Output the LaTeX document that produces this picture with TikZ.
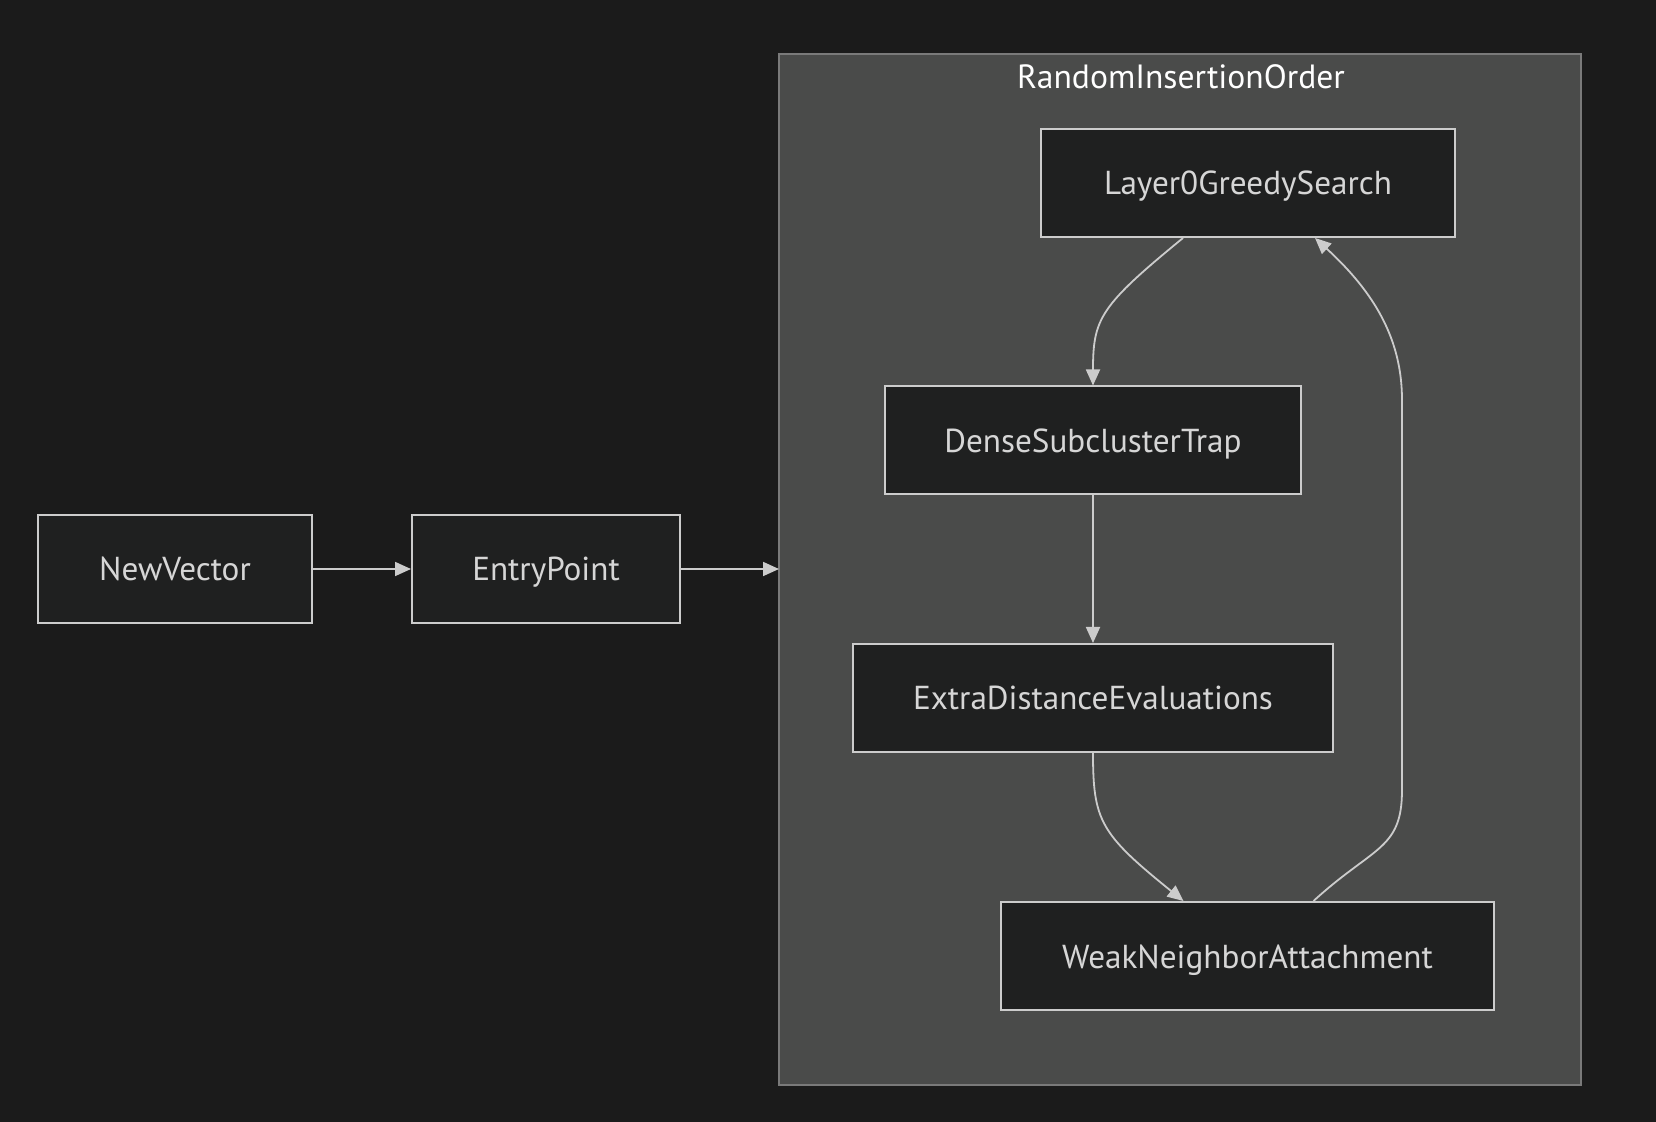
\documentclass[tikz,border=0pt]{standalone}
\usepackage{fontspec}
\setmainfont{PT Sans}
\usepackage{tikz}
\usetikzlibrary{shapes, arrows.meta, fit}
\usetikzlibrary{positioning}
\usepackage{color}
\definecolor{bgcol}{HTML}{1B1B1B}
\definecolor{clustfill}{HTML}{4A4B4A}
\definecolor{clustline}{HTML}{7A7A7A}
\definecolor{boxfill}{HTML}{1F2020}
\definecolor{boxline}{HTML}{CCCCCC}
\definecolor{txtcol}{HTML}{D6D6D6}

\tikzset{
  stepbox/.style={draw=boxline, line width=1pt, fill=boxfill, text=txtcol,
    minimum height=54pt, inner sep=0pt, text height=12pt, text depth=0pt,
    font=\fontsize{16.6}{19}\selectfont},
  link/.style={draw=boxline, line width=0.9pt,
    -{Triangle[length=8pt, width=7pt]}}
}

\begin{document}
\begin{tikzpicture}[x=0.5pt,y=-0.5pt]
\useasboundingbox[fill=bgcol] (0,0) rectangle (1656,1122);
\filldraw[fill=clustfill, draw=clustline, line width=0.8pt]
  (779,54) rectangle (1581,1085);
\path
  coordinate (clin) at (779,569)
  coordinate (loopbot) at (1402,790)
  coordinate (looptop) at (1402,400)
  ;
\node[text=white, text height=12pt, text depth=0pt,
  font=\fontsize{16.8}{19}\selectfont] (title) at (1181,77) {RandomInsertionOrder};
\node[stepbox, minimum width=137pt] (newvec) at (175,569) {NewVector};
\node[stepbox, minimum width=134pt] (entry) at (546,569) {EntryPoint};
\node[stepbox, minimum width=207pt] (layer0) at (1248,183) {Layer0GreedySearch};
\node[stepbox, minimum width=208pt] (dense) at (1093,440.5) {DenseSubclusterTrap};
\node[stepbox, minimum width=240pt] (extra) at (1093,698) {ExtraDistanceEvaluations};
\node[stepbox, minimum width=246.5pt] (weak) at (1247.5,956) {WeakNeighborAttachment};
\draw[link] (newvec) -- (entry);
\draw[link] (entry) -- (clin);
\draw[link] ([xshift=-32.5pt]layer0.south)
  .. controls +(-83,68) and +(0,-67) .. (dense.north);
\draw[link] (dense) -- (extra);
\draw[link] (extra.south)
  .. controls +(0,68) and +(-83,-67) .. ([xshift=-32pt]weak.north);
\draw[link] ([xshift=33pt]weak.north)
  .. controls +(60,-55) and +(0,60) .. (loopbot) --
  (looptop) .. controls +(0,-60) and +(60,55) .. ([xshift=33.5pt]layer0.south);
\end{tikzpicture}
\end{document}
